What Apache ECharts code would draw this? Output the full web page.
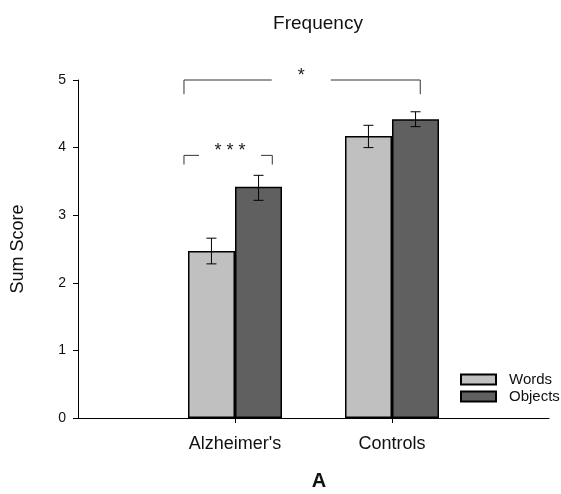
<!DOCTYPE html>
<html>
<head>
<meta charset="utf-8">
<script src="https://cdn.jsdelivr.net/npm/echarts@6/dist/echarts.min.js"></script>
<style>html,body{margin:0;padding:0;background:#fff}#c{width:561px;height:494px}</style>
</head>
<body>
<div id="c"></div>
<script>
// categories (padded with empty slots at the axis ends)
var categories = ['', "Alzheimer's", 'Controls', ''];
var seriesNames = ['Words', 'Objects'];
var wordsValues = ['-', 2.47, 4.17, '-'];
var objectsValues = ['-', 3.42, 4.42, '-'];
// error bar low / high
var wordsLow = [null, 2.28, 4.00, null];
var wordsHigh = [null, 2.66, 4.33, null];
var objectsLow = [null, 3.22, 4.31, null];
var objectsHigh = [null, 3.59, 4.53, null];
// significance brackets: [xLeft, xRight, gapLeft, gapRight, yTop, yTip, label, labelY]
var brackets = [
  [0.675, 2.18, 1.234, 1.61, 5.0, 4.79, '*', 5.06],
  [0.675, 1.2375, 0.771, 1.166, 3.885, 3.75, '* * *', 3.95]
];
var yTicks = [0, 1, 2, 3, 4, 5];

var chart = echarts.init(document.getElementById('c'), null, {renderer: 'canvas'});
var FONT = 'Liberation Sans, Arial, sans-serif';

// map a fractional category position to a pixel x using the axis scale
function xPix(api, x, y) {
  var a = api.coord([0, y]);
  var b = api.coord([1, y]);
  return [a[0] + x * (b[0] - a[0]), a[1]];
}

function errSeries(lowArr, highArr, seriesIndexOffset) {
  var data = [];
  for (var i = 0; i < categories.length; i++) {
    if (lowArr[i] != null) data.push([i, lowArr[i], highArr[i]]);
  }
  return {
    type: 'custom',
    data: data,
    z: 10,
    renderItem: function (params, api) {
      var x = api.value(0);
      var lo = api.coord([x, api.value(1)]);
      var hi = api.coord([x, api.value(2)]);
      var bw = api.size([1, 0])[0] * 0.3;
      var cx = lo[0] + seriesIndexOffset * bw;
      var cap = 5;
      var s = {stroke: '#000', lineWidth: 1};
      return {
        type: 'group',
        children: [
          {type: 'line', shape: {x1: cx, y1: lo[1], x2: cx, y2: hi[1]}, style: s},
          {type: 'line', shape: {x1: cx - cap, y1: lo[1], x2: cx + cap, y2: lo[1]}, style: s},
          {type: 'line', shape: {x1: cx - cap, y1: hi[1], x2: cx + cap, y2: hi[1]}, style: s}
        ]
      };
    }
  };
}

var option = {
  animation: false,
  backgroundColor: '#fff',
  title: [
    {text: 'Frequency', left: 313, top: 9, textAlign: 'center',
     textStyle: {fontFamily: FONT, fontSize: 19, fontWeight: 'normal', color: '#111'}},
    {text: 'A', left: 314, top: 466, textAlign: 'center',
     textStyle: {fontFamily: FONT, fontSize: 20, fontWeight: 'bold', color: '#111'}}
  ],
  legend: {
    orient: 'vertical',
    left: 460,
    top: 372,
    padding: 0,
    itemWidth: 35,
    itemHeight: 10,
    itemGap: 2,
    icon: 'rect',
    textStyle: {fontFamily: FONT, fontSize: 15, color: '#111', padding: [0, 0, 0, 8]},
    data: seriesNames
  },
  grid: {left: 78, right: 12, top: 80, bottom: 76, containLabel: false},
  xAxis: {
    type: 'category',
    data: categories,
    boundaryGap: false,
    axisLine: {lineStyle: {color: '#000', width: 1}},
    axisTick: {length: 5, lineStyle: {color: '#000'},
      interval: function (i, v) { return v !== ''; }},
    axisLabel: {fontFamily: FONT, fontSize: 18, color: '#111', margin: 17,
      interval: function (i, v) { return v !== ''; }},
    splitLine: {show: false}
  },
  yAxis: {
    type: 'value',
    min: 0, max: 5, interval: 1,
    name: 'Sum Score',
    nameLocation: 'middle',
    nameRotate: 90,
    nameGap: 51,
    nameTextStyle: {fontFamily: FONT, fontSize: 18, color: '#111'},
    axisLine: {show: true, lineStyle: {color: '#000', width: 1}},
    axisTick: {show: true, length: 5, lineStyle: {color: '#000'}},
    axisLabel: {fontFamily: FONT, fontSize: 14, color: '#111', margin: 12,
      formatter: function (v) { return yTicks.indexOf(v) >= 0 ? String(v) : ''; }},
    splitLine: {show: false}
  },
  series: [
    {
      name: seriesNames[0], type: 'bar', data: wordsValues, barWidth: 47, barGap: '0%',
      itemStyle: {color: '#c0c0c0', borderColor: '#000', borderWidth: 1.5}
    },
    {
      name: seriesNames[1], type: 'bar', data: objectsValues, barWidth: 47, barGap: '0%',
      itemStyle: {color: '#606060', borderColor: '#000', borderWidth: 1.5}
    },
    errSeries(wordsLow, wordsHigh, -0.5),
    errSeries(objectsLow, objectsHigh, 0.5),
    {
      type: 'custom',
      data: brackets.map(function (b, i) { return [i, b[4]]; }),
      z: 10,
      renderItem: function (params, api) {
        var b = brackets[params.dataIndex];
        var L = xPix(api, b[0], b[4]);
        var R = xPix(api, b[1], b[4]);
        var gl = xPix(api, b[2], b[4]);
        var gr = xPix(api, b[3], b[4]);
        var tip = xPix(api, b[0], b[5]);
        var lab = xPix(api, (b[2] + b[3]) / 2, b[7]);
        var s = {stroke: '#333', lineWidth: 1, fill: null};
        return {
          type: 'group',
          children: [
            {type: 'polyline', shape: {points: [[L[0], tip[1]], [L[0], L[1]], [gl[0], L[1]]]}, style: s},
            {type: 'polyline', shape: {points: [[gr[0], R[1]], [R[0], R[1]], [R[0], tip[1]]]}, style: s},
            {type: 'text', style: {x: lab[0], y: lab[1], text: b[6], fill: '#222',
              font: '18px ' + FONT, align: 'center', verticalAlign: 'middle'}}
          ]
        };
      }
    }
  ]
};
chart.setOption(option);
</script>
</body>
</html>
